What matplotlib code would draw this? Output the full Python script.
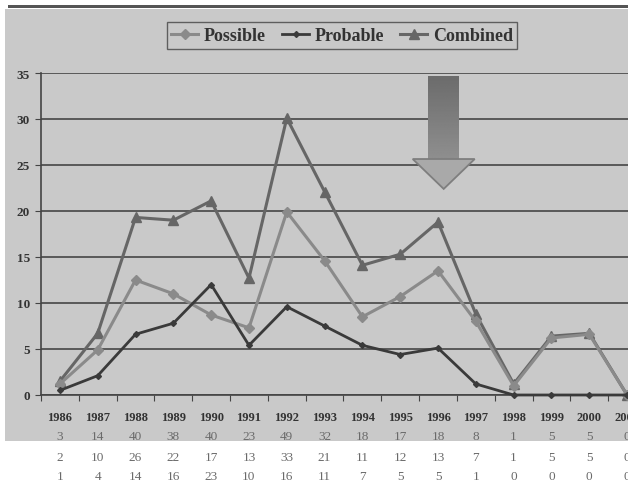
import numpy as np
import matplotlib
matplotlib.use("Agg")
import matplotlib.pyplot as plt
from matplotlib.patches import Rectangle, Polygon
from matplotlib.transforms import blended_transform_factory

# data
years = ["1986", "1987", "1988", "1989", "1990", "1991", "1992", "1993",
         "1994", "1995", "1996", "1997", "1998", "1999", "2000", "2001"]
possible = [1.2, 4.9, 12.5, 11.0, 8.7, 7.3, 19.9, 14.6, 8.5, 10.7, 13.5, 8.0, 1.0, 6.2, 6.6, 0.0]
probable = [0.5, 2.1, 6.6, 7.8, 12.0, 5.4, 9.6, 7.5, 5.4, 4.4, 5.1, 1.2, 0.0, 0.0, 0.0, 0.0]
combined = [1.5, 6.7, 19.3, 19.0, 21.1, 12.7, 30.1, 22.1, 14.1, 15.3, 18.8, 8.8, 1.2, 6.4, 6.7, 0.0]

row_combined = [3, 14, 40, 38, 40, 23, 49, 32, 18, 17, 18, 8, 1, 5, 5, 0]
row_possible = [2, 10, 26, 22, 17, 13, 33, 21, 11, 12, 13, 7, 1, 5, 5, 0]
row_probable = [1, 4, 14, 16, 23, 10, 16, 11, 7, 5, 5, 1, 0, 0, 0, 0]

SERIF = "Liberation Serif"
BG = "#c9c9c9"
W, H = 628, 485

fig = plt.figure(figsize=(W / 100, H / 100), dpi=100)
fig.patch.set_facecolor("white")

# grey chart area and the dark rule above it
fig.patches.append(Rectangle((5 / W, 1 - 442 / H), 1, (442 - 10) / H,
                             transform=fig.transFigure, facecolor=BG,
                             edgecolor="none", zorder=-10))
fig.patches.append(Rectangle((8 / W, 1 - 8.5 / H), 1, 2.5 / H,
                             transform=fig.transFigure, facecolor="#555555",
                             edgecolor="none", zorder=-10))

x = np.arange(len(years))
x_left, x_right = 41, 646
y_top, y_bot = 74, 396
ax = fig.add_axes([x_left / W, 1 - y_bot / H, (x_right - x_left) / W, (y_bot - y_top) / H])
ax.set_facecolor("none")

ax.set_yticks(np.arange(0, 36, 5))
ax.yaxis.grid(True, color="#3a3a3a", linewidth=1.1)
ax.set_axisbelow(True)
ax.set_xticks(np.arange(-0.5, len(years), 1))
ax.set_xticklabels([])
ax.tick_params(axis="x", direction="out", length=4, color="#444444")
ax.tick_params(axis="y", direction="out", length=4, color="#444444",
               labelsize=9.5, pad=4)
for lab in ax.get_yticklabels():
    lab.set_fontfamily(SERIF)
    lab.set_fontweight("bold")
    lab.set_color("#333333")
for side in ["top", "right"]:
    ax.spines[side].set_visible(False)
for side in ["left", "bottom"]:
    ax.spines[side].set_color("#444444")
    ax.spines[side].set_linewidth(1.2)

ax.plot(x, possible, color="#8a8a8a", lw=2.2, marker="D", ms=5.5,
        label="Possible", zorder=3, clip_on=False)
ax.plot(x, probable, color="#3a3a3a", lw=2.0, marker="D", ms=3,
        label="Probable", zorder=4, clip_on=False)
ax.plot(x, combined, color="#666666", lw=2.2, marker="^", ms=7.5,
        label="Combined", zorder=2, clip_on=False)

# down arrow with shaded shaft
ARROW_X = 10.15
shaft_half, head_half = 0.41, 0.82
shaft_top, head_y, tip_y = 34.7, 25.65, 22.4
grad = np.linspace(0.42, 0.56, 100).reshape(-1, 1)
shaft = Polygon([(ARROW_X - shaft_half, shaft_top), (ARROW_X + shaft_half, shaft_top),
                 (ARROW_X + shaft_half, head_y), (ARROW_X - shaft_half, head_y)],
                closed=True, facecolor="none", edgecolor="none", zorder=5)
ax.add_patch(shaft)
im = ax.imshow(grad, cmap="gray", vmin=0, vmax=1, aspect="auto",
               extent=(ARROW_X - shaft_half, ARROW_X + shaft_half, head_y, shaft_top),
               zorder=5, interpolation="bilinear")
im.set_clip_path(shaft)
ax.add_patch(Polygon([(ARROW_X - head_half, head_y), (ARROW_X + head_half, head_y),
                      (ARROW_X, tip_y)], closed=True, facecolor="#a9a9a9",
                     edgecolor="#7e7e7e", linewidth=1.3, zorder=6))
ax.set_xlim(-0.5, len(years) - 0.5)
ax.set_ylim(0, 35)

# legend
leg = fig.legend(loc="center", bbox_to_anchor=(342 / W, 1 - 36.5 / H), ncol=3,
                 frameon=True, fancybox=False, handlelength=1.5, handletextpad=0.3,
                 columnspacing=0.9, borderpad=0.25,
                 prop={"family": SERIF, "weight": "bold", "size": 13})
leg.get_frame().set_facecolor(BG)
leg.get_frame().set_edgecolor("#444444")
leg.get_frame().set_linewidth(1.0)
for t in leg.get_texts():
    t.set_color("#333333")

# data table under the axis
tr = blended_transform_factory(ax.transData, fig.transFigure)
for i, yr in enumerate(years):
    ax.text(i, 1 - 418 / H, yr, transform=tr, ha="center", va="center",
            family=SERIF, weight="bold", size=9, color="#333333", clip_on=False)
    ax.text(i, 1 - 437 / H, str(row_combined[i]), transform=tr, ha="center", va="center",
            family=SERIF, size=9.5, color="#6a6a6a", clip_on=False)
    ax.text(i, 1 - 458 / H, str(row_possible[i]), transform=tr, ha="center", va="center",
            family=SERIF, size=9.5, color="#6a6a6a", clip_on=False)
    ax.text(i, 1 - 477 / H, str(row_probable[i]), transform=tr, ha="center", va="center",
            family=SERIF, size=9.5, color="#6a6a6a", clip_on=False)

fig.savefig("out.png", dpi=100)
